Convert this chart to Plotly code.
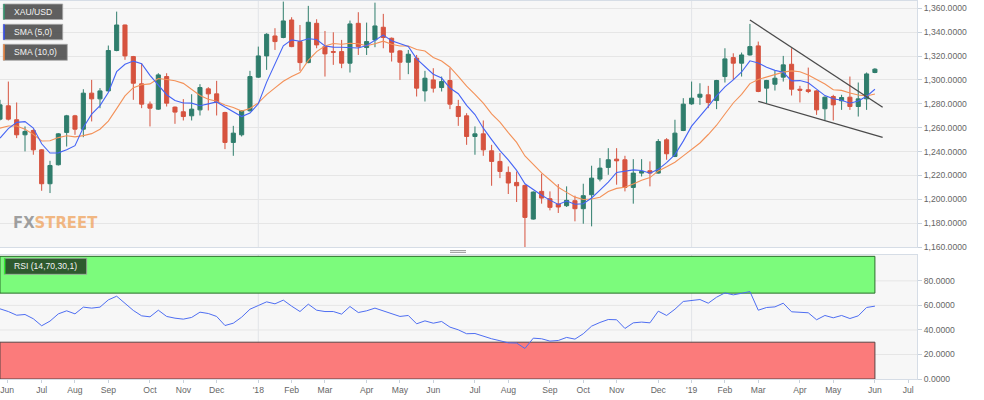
import pandas as pd
import plotly.graph_objects as go

# ---------------- data (weekly XAU/USD candles) ----------------
first_week = "2017-05-28"  # Sunday that opens the first (partly visible) weekly candle

opens = [1267.1, 1278.3, 1266.6, 1254.0, 1257.6, 1241.4, 1213.0, 1228.9, 1256.0, 1269.9,
         1258.7, 1288.9, 1284.1, 1290.8, 1324.6, 1346.0, 1319.5, 1296.7, 1279.7, 1275.5,
         1302.8, 1277.2, 1273.3, 1269.9, 1274.9, 1292.5, 1288.3, 1272.7, 1247.6, 1254.0,
         1274.1, 1302.3, 1320.1, 1336.8, 1335.5, 1350.2, 1332.1, 1314.5, 1347.4, 1327.9,
         1323.7, 1323.7, 1314.0, 1347.4, 1327.1, 1333.5, 1344.1, 1334.9, 1324.3, 1314.8,
         1318.2, 1290.8, 1300.0, 1293.6, 1299.5, 1277.7, 1269.9, 1252.6, 1254.8, 1240.6,
         1231.7, 1222.5, 1214.1, 1211.6, 1183.4, 1206.6, 1200.4, 1196.0, 1194.6, 1198.8,
         1192.1, 1203.8, 1216.9, 1226.7, 1233.6, 1233.1, 1209.9, 1221.9, 1223.9, 1221.9,
         1249.8, 1235.9, 1257.6, 1279.9, 1285.5, 1287.5, 1282.7, 1302.8, 1318.7, 1314.0,
         1320.9, 1328.5, 1293.1, 1296.4, 1302.3, 1313.1, 1292.2, 1291.7, 1290.8, 1275.8,
         1286.1, 1282.5, 1285.5, 1277.7, 1284.1, 1306.2]
highs = [1283.3, 1298.6, 1281.1, 1261.0, 1258.7, 1242.0, 1232.2, 1255.4, 1270.7, 1270.7,
         1292.2, 1300.0, 1293.1, 1328.8, 1357.2, 1346.3, 1320.1, 1314.0, 1281.9, 1305.6,
         1305.6, 1277.7, 1283.9, 1288.0, 1296.4, 1293.9, 1299.2, 1273.3, 1261.5, 1274.6,
         1307.6, 1327.9, 1339.1, 1343.3, 1365.6, 1352.5, 1346.0, 1362.0, 1350.8, 1341.0,
         1339.9, 1333.5, 1349.7, 1356.7, 1348.0, 1364.7, 1355.3, 1335.5, 1325.1, 1325.1,
         1320.9, 1307.6, 1309.8, 1302.8, 1309.8, 1283.3, 1272.1, 1261.0, 1266.0, 1245.6,
         1238.7, 1227.5, 1223.3, 1212.2, 1206.6, 1221.4, 1206.6, 1212.7, 1210.8, 1203.0,
         1213.0, 1228.1, 1234.5, 1242.8, 1242.8, 1236.4, 1233.6, 1233.6, 1231.7, 1250.4,
         1251.2, 1266.6, 1284.7, 1298.6, 1297.2, 1295.0, 1300.0, 1326.5, 1322.3, 1322.9,
         1346.9, 1332.1, 1300.0, 1307.6, 1320.1, 1326.5, 1295.0, 1310.3, 1291.4, 1286.1,
         1287.5, 1287.5, 1302.8, 1297.8, 1306.2, 1309.8]
lows = [1266.0, 1266.0, 1251.2, 1240.1, 1237.3, 1207.1, 1205.2, 1228.3, 1244.2, 1254.0,
        1252.0, 1265.2, 1276.3, 1290.3, 1324.0, 1316.8, 1283.3, 1276.3, 1261.0, 1274.9,
        1277.7, 1263.2, 1266.0, 1266.0, 1270.2, 1274.4, 1270.2, 1242.0, 1236.4, 1252.6,
        1273.5, 1301.7, 1308.4, 1325.1, 1334.9, 1327.4, 1307.6, 1314.0, 1326.5, 1302.8,
        1312.6, 1309.8, 1306.2, 1320.9, 1320.9, 1327.4, 1326.5, 1315.4, 1300.0, 1304.8,
        1286.1, 1281.9, 1289.4, 1290.3, 1275.5, 1261.5, 1245.6, 1237.3, 1236.4, 1211.3,
        1217.7, 1204.4, 1197.7, 1160.0, 1182.9, 1196.3, 1190.7, 1188.5, 1193.5, 1181.5,
        1179.5, 1177.3, 1215.0, 1220.5, 1212.2, 1206.6, 1196.3, 1219.1, 1210.8, 1221.4,
        1233.1, 1235.3, 1257.1, 1279.1, 1279.1, 1276.3, 1275.5, 1297.8, 1300.0, 1302.8,
        1320.4, 1289.7, 1280.5, 1291.1, 1298.6, 1286.9, 1281.1, 1288.9, 1270.7, 1266.0,
        1266.0, 1274.9, 1274.9, 1269.3, 1274.9, 1305.6]
closes = [1279.1, 1267.1, 1254.0, 1256.8, 1241.4, 1213.0, 1228.3, 1254.8, 1269.9, 1258.7,
          1288.9, 1284.1, 1290.8, 1324.6, 1346.0, 1320.1, 1297.2, 1279.7, 1276.3, 1304.2,
          1280.5, 1273.0, 1269.3, 1275.5, 1293.6, 1288.3, 1281.1, 1247.6, 1255.4, 1274.1,
          1302.8, 1320.1, 1338.2, 1332.1, 1349.4, 1327.9, 1314.5, 1348.3, 1329.3, 1321.8,
          1323.2, 1314.0, 1346.9, 1327.9, 1332.1, 1345.2, 1335.5, 1323.2, 1314.8, 1321.5,
          1293.1, 1301.4, 1293.1, 1298.6, 1279.7, 1269.3, 1252.6, 1254.8, 1241.4, 1231.7,
          1223.3, 1213.6, 1211.3, 1184.8, 1206.0, 1201.0, 1193.2, 1193.5, 1199.1, 1192.1,
          1203.0, 1217.7, 1226.1, 1233.1, 1232.2, 1209.9, 1221.9, 1223.3, 1221.9, 1248.4,
          1238.1, 1255.4, 1279.7, 1284.7, 1288.0, 1281.1, 1299.5, 1317.6, 1314.0, 1320.9,
          1327.9, 1290.3, 1299.5, 1301.4, 1312.6, 1292.2, 1291.4, 1290.3, 1274.9, 1285.5,
          1279.1, 1285.2, 1277.7, 1284.1, 1305.0, 1309.0]
# weekly closes before the first visible candle (implied by the SMA lines at the left edge)
prior_closes = [1249, 1254, 1285, 1284, 1268, 1227, 1228, 1254, 1268]

rsi = [57.2, 55.0, 52.0, 52.6, 49.1, 43.4, 47.2, 53.1, 55.6, 53.1,
       58.6, 57.8, 58.6, 64.5, 67.5, 61.3, 55.9, 51.5, 50.7, 56.1,
       51.0, 49.6, 48.8, 50.2, 54.5, 53.4, 51.0, 43.6, 45.5, 50.4,
       56.9, 59.9, 62.9, 61.3, 64.3, 59.4, 55.0, 61.0, 56.1, 55.0,
       55.0, 52.9, 59.1, 54.2, 55.6, 57.8, 55.6, 53.1, 51.0, 51.8,
       45.0, 47.4, 45.5, 46.9, 42.3, 40.1, 36.9, 37.1, 34.7, 32.8,
       31.2, 29.5, 29.3, 24.9, 33.3, 32.8, 30.9, 31.4, 33.9, 32.5,
       36.9, 43.1, 46.1, 48.5, 48.3, 41.2, 45.8, 46.4, 45.8, 55.3,
       51.8, 56.9, 63.2, 64.0, 64.8, 61.8, 66.7, 70.2, 68.6, 69.9,
       71.3, 56.1, 58.3, 58.8, 61.8, 54.8, 54.5, 54.0, 48.3, 51.8,
       49.9, 51.8, 49.3, 51.5, 58.3, 59.4]
rsi_upper, rsi_lower, rsi_max = 70, 30, 100

upper_trend_dates = ["2019-02-17", "2019-06-08 12:00"]
upper_trend_prices = [1350.2, 1277.1]
lower_trend_dates = ["2019-02-24", "2019-06-08 12:00"]
lower_trend_prices = [1282.1, 1251.9]

tick_labels = ["Jun", "Jul", "Aug", "Sep", "Oct", "Nov", "Dec", "'18", "Feb", "Mar", "Apr", "May", "Jun",
               "Jul", "Aug", "Sep", "Oct", "Nov", "Dec", "'19", "Feb", "Mar", "Apr", "May", "Jun", "Jul"]
price_ticks = list(range(1160, 1361, 20))
rsi_ticks = [0, 20, 40, 60, 80]

# ---------------- derived ----------------
dates = pd.date_range(first_week, periods=len(closes), freq="7D")
all_c = pd.Series(prior_closes + closes)
sma5 = all_c.rolling(5).mean().iloc[len(prior_closes):].tolist()
sma10 = all_c.rolling(10).mean().iloc[len(prior_closes):].tolist()

week = pd.Timedelta(weeks=1)
x_start = dates[0]
x_end = dates[0] + 110.05 * week

# month ticks: first weekly bar whose trading week (Sun..Fri) reaches the month
ext = pd.date_range(first_week, periods=len(closes) + 8, freq="7D")
tickvals, prev = [], None
for d in ext:
    m = (d + pd.Timedelta(days=5)).month
    if m != prev:
        tickvals.append(d)
        prev = m
tickvals = [t for t in tickvals if t <= x_end][:len(tick_labels)]
if tickvals[0] - x_start < week:
    tickvals[0] = x_start + 0.85 * week  # keep edge label inside the plot
year_ticks = [v for v, t in zip(tickvals, tick_labels) if t.startswith("'")]

# ---------------- layout helpers ----------------
W, H = 984, 400
ML, MR, MT, MB = 0, 67, 1, 21
PW, PH = W - ML - MR, H - MT - MB


def px(x):
    return (x - ML) / PW


def py(y):
    return (H - MB - y) / PH


main_dom = [py(247), 1.0]
rsi_dom = [0.0, py(255)]

GREEN, RED = "#2f7d6c", "#d6533f"
FONT = "Liberation Sans, Arial, sans-serif"
TICKFONT = dict(family=FONT, size=8.6, color="#666666")
BORDER = "#d6dde6"
GRID = "#e6e6e6"

fig = go.Figure()
fig.add_trace(go.Candlestick(
    x=dates, open=opens, high=highs, low=lows, close=closes,
    increasing=dict(line=dict(color=GREEN, width=1), fillcolor=GREEN),
    decreasing=dict(line=dict(color=RED, width=1), fillcolor=RED),
    whiskerwidth=0, xaxis="x", yaxis="y", showlegend=False, hoverinfo="skip"))
fig.add_trace(go.Scatter(x=dates, y=sma10, mode="lines", line=dict(color="#f39158", width=1.1),
                         xaxis="x", yaxis="y", showlegend=False, hoverinfo="skip"))
fig.add_trace(go.Scatter(x=dates, y=sma5, mode="lines", line=dict(color="#4564f5", width=1.1),
                         xaxis="x", yaxis="y", showlegend=False, hoverinfo="skip"))
for tx, ty in [(upper_trend_dates, upper_trend_prices), (lower_trend_dates, lower_trend_prices)]:
    fig.add_trace(go.Scatter(x=tx, y=ty, mode="lines", line=dict(color="#4a4a4a", width=1.3),
                             xaxis="x", yaxis="y", showlegend=False, hoverinfo="skip"))
fig.add_trace(go.Scatter(x=dates, y=rsi, mode="lines", line=dict(color="#4e6ef2", width=1),
                         xaxis="x2", yaxis="y2", showlegend=False, hoverinfo="skip"))

shapes = []
for yt in year_ticks:
    for xr, yr in [("x", "y domain"), ("x2", "y2 domain")]:
        shapes.append(dict(type="line", xref=xr, yref=yr, x0=yt, x1=yt, y0=0, y1=1,
                           line=dict(color="#e2e4e8", width=1), layer="below"))
# RSI grid drawn as shapes so the zones can cover it
for v in rsi_ticks[1:]:
    shapes.append(dict(type="line", xref="x2 domain", yref="y2", x0=0, x1=1, y0=v, y1=v,
                       line=dict(color=GRID, width=1), layer="below"))
shapes.append(dict(type="rect", xref="x2", yref="y2", x0=dates[0], x1=dates[-1],
                   y0=rsi_upper, y1=rsi_max, fillcolor="#7cfb7c",
                   line=dict(color="#2c6e2c", width=1), layer="below"))
shapes.append(dict(type="rect", xref="x2", yref="y2", x0=dates[0], x1=dates[-1],
                   y0=0, y1=rsi_lower, fillcolor="#fb7b7b",
                   line=dict(color="#5b4444", width=1), layer="below"))
# panel separator grip
for yy in (250.6, 252.4):
    shapes.append(dict(type="line", xref="paper", yref="paper", x0=px(450), x1=px(466),
                       y0=py(yy), y1=py(yy), line=dict(color="#9a9a9a", width=1)))

annotations = []
labels = [("XAU/USD", 3.3, 62.7, 4, 19.5, "#2f9c72", "rgba(78,78,78,0.9)"),
          ("SMA (5,0)", 3.3, 62.7, 24.3, 39.8, "#2f4cff", "rgba(78,78,78,0.9)"),
          ("SMA (10,0)", 3.3, 67.3, 44.3, 60.3, "#ff8a3c", "rgba(78,78,78,0.9)"),
          ("RSI (14,70,30,1)", 4.0, 86.7, 258.3, 274.3, "#33ee33", "#2e5a2e")]
for text, x0, x1, y0, y1, stripe, bg in labels:
    shapes.append(dict(type="rect", xref="paper", yref="paper", x0=px(x0), x1=px(x1),
                       y0=py(y1), y1=py(y0), fillcolor=bg, line=dict(color="#a8a8a8", width=0.8)))
    shapes.append(dict(type="rect", xref="paper", yref="paper", x0=px(x0), x1=px(x0 + 1.4),
                       y0=py(y1), y1=py(y0), fillcolor=stripe, line=dict(width=0)))
    annotations.append(dict(text=text, xref="paper", yref="paper", x=px(11.5), y=py((y0 + y1) / 2),
                            xanchor="left", yanchor="middle", showarrow=False,
                            font=dict(family=FONT, size=8.6, color="#f2f2f2")))

annotations.append(dict(
    text="<b><span style='color:rgba(125,125,125,0.72)'>FX</span>"
         "<span style='color:rgba(240,158,85,0.72)'>STREET</span></b>",
    xref="paper", yref="paper", x=px(11), y=py(222.5), xanchor="left", yanchor="middle",
    showarrow=False, font=dict(family="Liberation Sans Narrow, DejaVu Sans Condensed, sans-serif", size=16.5)))

axis_common = dict(showline=True, mirror=True, linecolor=BORDER, linewidth=1, zeroline=False)
fig.update_layout(
    width=W, height=H, margin=dict(l=ML, r=MR, t=MT, b=MB),
    paper_bgcolor="white", plot_bgcolor="#f7f7f7",
    shapes=shapes, annotations=annotations, hovermode=False,
    xaxis=dict(domain=[0, 1], anchor="y", type="date", range=[x_start, x_end],
               showticklabels=False, showgrid=False, ticks="", rangeslider=dict(visible=False),
               **axis_common),
    yaxis=dict(domain=main_dom, anchor="x", side="right", range=[1160, 1366.1],
               tickvals=price_ticks, tickformat=",.4f", showgrid=True, gridcolor=GRID,
               ticks="outside", ticklen=4, tickcolor="#c9d2dc", tickfont=TICKFONT, **axis_common),
    xaxis2=dict(domain=[0, 1], anchor="y2", type="date", range=[x_start, x_end],
                tickvals=tickvals, ticktext=tick_labels, showgrid=False, ticks="outside",
                ticklen=3, tickcolor="#c9d2dc", tickfont=TICKFONT, rangeslider=dict(visible=False),
                **axis_common),
    yaxis2=dict(domain=rsi_dom, anchor="x2", side="right", range=[0, 101.1],
                tickvals=rsi_ticks, tickformat=".4f", showgrid=False,
                ticks="outside", ticklen=4, tickcolor="#c9d2dc", tickfont=TICKFONT, **axis_common),
)

fig.write_html("out.html", config={"displayModeBar": False},
               post_script="document.body.style.margin='0';document.body.style.overflow='hidden';")
